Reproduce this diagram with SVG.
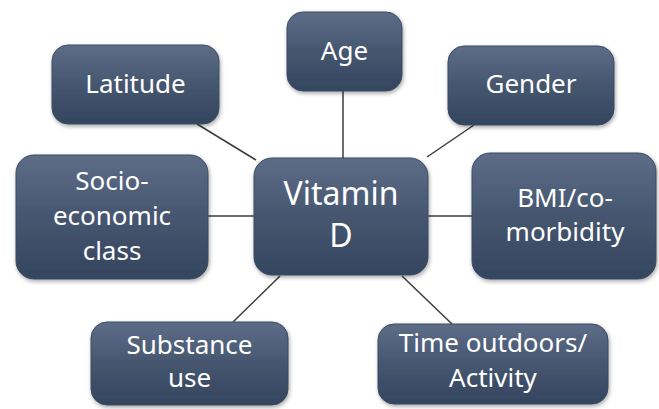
<svg xmlns="http://www.w3.org/2000/svg" width="659" height="409" viewBox="0 0 659 409">
<defs>
<linearGradient id="g" x1="0" y1="0" x2="0" y2="1">
<stop offset="0" stop-color="#5d6d88"/>
<stop offset="0.5" stop-color="#46566f"/>
<stop offset="1" stop-color="#34455f"/>
</linearGradient>
<filter id="sh" x="-10%" y="-10%" width="125%" height="130%">
<feGaussianBlur in="SourceAlpha" stdDeviation="2"/>
<feOffset dx="1" dy="2" result="b"/>
<feComponentTransfer><feFuncA type="linear" slope="0.35"/></feComponentTransfer>
<feMerge><feMergeNode/><feMergeNode in="SourceGraphic"/></feMerge>
</filter>
</defs>
<style>
.box{fill:url(#g);stroke:#3a4a63;stroke-width:1;filter:url(#sh)}
.t{font-family:"Noto Sans","Open Sans",sans-serif;font-size:26px;fill:#ffffff;text-anchor:middle}
.big{font-size:32px}
.c line{stroke:#3c3c3c;stroke-width:1.5}
</style>
<rect width="659" height="409" fill="#ffffff"/>
<g class="c" id="connectors">
<line x1="197" y1="124" x2="256" y2="160"/>
<line x1="343" y1="91" x2="343" y2="158"/>
<line x1="474" y1="125" x2="427" y2="157"/>
<line x1="208" y1="216" x2="254" y2="216"/>
<line x1="428" y1="216" x2="472" y2="216"/>
<line x1="280" y1="276" x2="233" y2="322"/>
<line x1="402" y1="276" x2="452" y2="324"/>
</g>
<g id="latitude">
<rect class="box" x="52" y="45" width="167" height="79" rx="16"/>
<text class="t" x="135.5" y="93">Latitude</text>
</g>
<g id="age">
<rect class="box" x="287" y="12" width="115" height="79" rx="16"/>
<text class="t" x="344.5" y="60">Age</text>
</g>
<g id="gender">
<rect class="box" x="448" y="46" width="166" height="79" rx="16"/>
<text class="t" x="531" y="93">Gender</text>
</g>
<g id="vitamin-d">
<rect class="box" x="254" y="158" width="174" height="117" rx="18"/>
<text class="t big" x="341" y="205">Vitamin</text>
<text class="t big" x="341" y="247">D</text>
</g>
<g id="socio-economic">
<rect class="box" x="16" y="155" width="192" height="124" rx="18"/>
<text class="t" x="112" y="190">Socio-</text>
<text class="t" x="112" y="225">economic</text>
<text class="t" x="112" y="260">class</text>
</g>
<g id="bmi">
<rect class="box" x="472" y="153" width="184" height="126" rx="18"/>
<text class="t" x="565" y="207">BMI/co-</text>
<text class="t" x="565" y="241">morbidity</text>
</g>
<g id="substance">
<rect class="box" x="91" y="322" width="197" height="83" rx="16"/>
<text class="t" x="189.5" y="354">Substance</text>
<text class="t" x="189.5" y="387">use</text>
</g>
<g id="time-outdoors">
<rect class="box" x="378" y="324" width="230" height="80" rx="16"/>
<text class="t" x="493" y="352">Time outdoors/</text>
<text class="t" x="493" y="387">Activity</text>
</g>
</svg>
